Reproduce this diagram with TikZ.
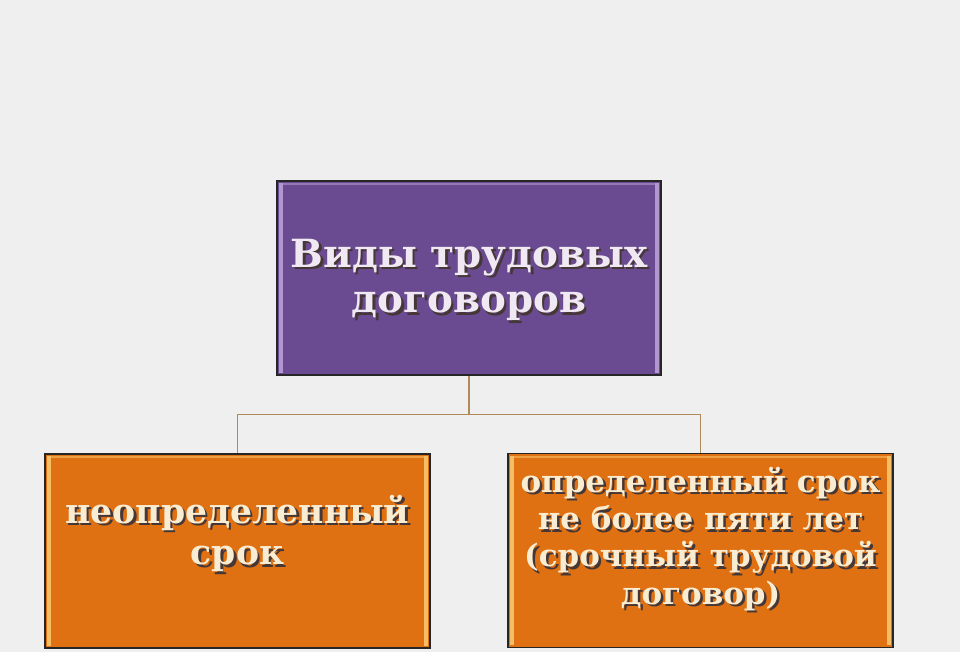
\documentclass[tikz,border=0pt]{standalone}
\usepackage{fontspec}
\setmainfont{DejaVu Serif}
\usetikzlibrary{positioning}
\definecolor{pagegray}{RGB}{239,239,239}
\definecolor{kindpurple}{RGB}{106,75,145}
\definecolor{kindpurplelite}{RGB}{178,150,208}
\definecolor{termorange}{RGB}{224,113,18}
\definecolor{termorangelite}{RGB}{246,190,100}
\definecolor{linktan}{RGB}{176,138,88}
\definecolor{shadecol}{RGB}{70,55,55}
\definecolor{lilacwhite}{RGB}{240,232,242}
\definecolor{creamwhite}{RGB}{248,236,210}
% text with a dark drop shadow, lifted by #1
\newcommand\shadowed[2][0pt]{\raisebox{#1}[\height][\depth]{%
 \makebox[0pt][l]{\hspace{1.8pt}\raisebox{-1.8pt}{\color{shadecol}%
 \begin{tabular}{@{}c@{}}#2\end{tabular}}}%
 \begin{tabular}{@{}c@{}}#2\end{tabular}}}
\tikzset{
 bevel/.style={path picture={
  \fill[#1] ([xshift=1.5pt,yshift=-1.5pt]path picture bounding box.north west)
   rectangle ([xshift=4.5pt,yshift=1.5pt]path picture bounding box.south west);
  \fill[#1] ([xshift=-1.5pt,yshift=-1.5pt]path picture bounding box.north east)
   rectangle ([xshift=-4.5pt,yshift=1.5pt]path picture bounding box.south east);
  \fill[#1,opacity=.6] ([xshift=1.5pt,yshift=-1.5pt]path picture bounding box.north west)
   rectangle ([xshift=-1.5pt,yshift=-3pt]path picture bounding box.north east);}},
 kindbox/.style={draw=black!85,line width=.8pt,fill=kindpurple,
  bevel=kindpurplelite,text=lilacwhite,minimum width=9.6cm,minimum height=4.85cm,
  inner sep=0pt,font=\fontsize{27.6}{32.5}\selectfont\bfseries},
 termbox/.style={draw=black!85,line width=.8pt,fill=termorange,
  bevel=termorangelite,text=creamwhite,minimum width=9.62cm,minimum height=4.85cm,
  inner sep=0pt},
 link/.style={draw=linktan,line width=.7pt}
}
\begin{document}
\begin{tikzpicture}[x=.025cm,y=-.025cm]
 \fill[pagegray] (0,0) rectangle (960,652);
 \useasboundingbox (0,0) rectangle (960,652);

 % heading box
 \node[kindbox] (kinds) at (469,278)
  {\shadowed[-3pt]{Виды трудовых\\договоров}};

 % the two kinds of term
 \node[termbox,font=\fontsize{24.6}{29.5}\selectfont\bfseries] (open) at (237.5,551)
  {\shadowed[10pt]{неопределенный\\срок}};
 \node[termbox,font=\fontsize{22}{26.5}\selectfont\bfseries] (fixed) at (700.5,550.5)
  {\shadowed[6pt]{определенный срок\\не более пяти лет\\(срочный трудовой\\договор)}};

 % connectors
 \coordinate (split) at (469,414);
 \draw[link,line width=1.3pt] (kinds.south) -- (split);
 \draw[link] (split) -| (open.north);
 \draw[link] (split) -| (fixed.north);
\end{tikzpicture}
\end{document}
